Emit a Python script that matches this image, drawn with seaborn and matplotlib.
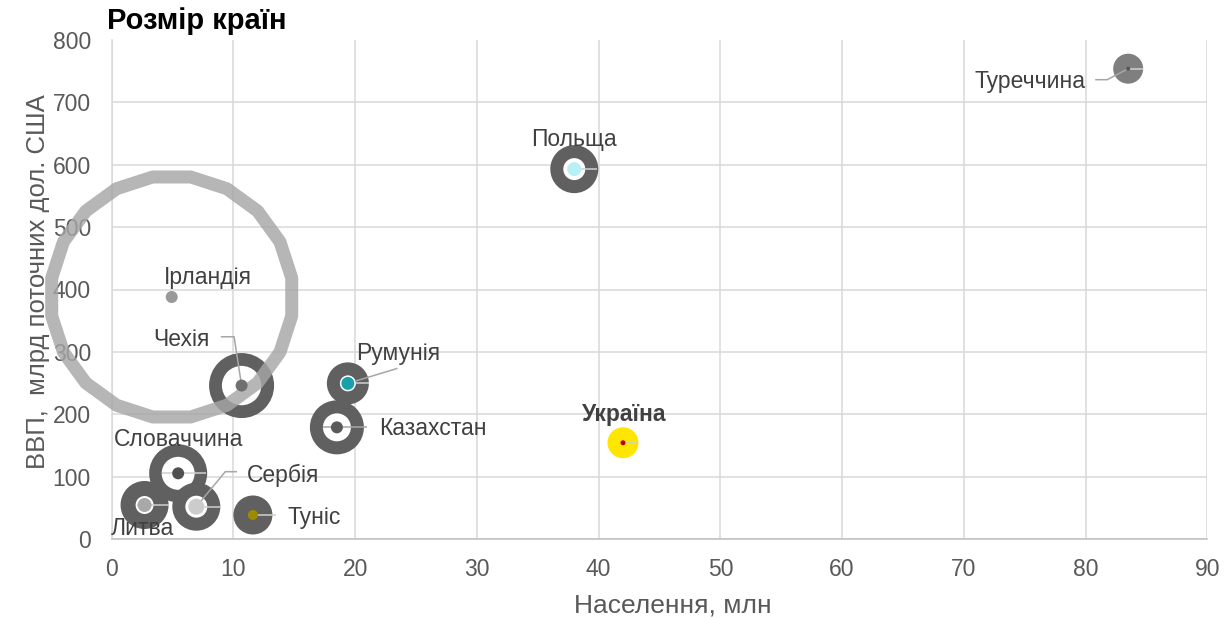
import numpy as np
import pandas as pd
import seaborn as sns
import matplotlib
matplotlib.use("Agg")
import matplotlib.pyplot as plt
from matplotlib.transforms import IdentityTransform

# Country data: population (mln) and GDP (bn current USD)
countries = ["Туреччина", "Польща", "Чехія", "Румунія", "Казахстан", "Україна",
             "Словаччина", "Литва", "Сербія", "Туніс", "Ірландія"]
population = [83.5, 38.0, 10.67, 19.4, 18.5, 42.0, 5.46, 2.7, 6.95, 11.6, 4.93]
gdp = [754, 593, 246, 249.5, 179, 154.3, 105.3, 54.5, 51.8, 38.5, 388]

x_ticks = list(range(0, 91, 10))
y_ticks = list(range(0, 801, 100))

title = "Розмір країн"
x_title = "Населення, млн"
y_title = "ВВП,  млрд поточних дол. США"

df = pd.DataFrame({"country": countries, "population": population, "gdp": gdp})

# Marker styling, in pixels (outer ring radius, inner hole radius, colours)
PX = 72 / 100  # points per pixel at 100 dpi
DARK = "#606060"
ring_outer = {"Туреччина": 15, "Польща": 24, "Чехія": 32.5, "Румунія": 21, "Казахстан": 27,
              "Україна": 15.5, "Словаччина": 29, "Литва": 24, "Сербія": 24, "Туніс": 19.5,
              "Ірландія": 128}
ring_inner = {"Туреччина": 0, "Польща": 11, "Чехія": 19.7, "Румунія": 8, "Казахстан": 14,
              "Україна": 0, "Словаччина": 16.5, "Литва": 9, "Сербія": 11, "Туніс": 0,
              "Ірландія": 115}
ring_color = {c: DARK for c in countries}
ring_color.update({"Туреччина": "#7f7f7f", "Україна": "#ffe600", "Ірландія": "#a6a6a6"})
dot_radius = {"Туреччина": 2, "Польща": 7, "Чехія": 6, "Румунія": 7, "Казахстан": 6,
              "Україна": 2.5, "Словаччина": 6, "Литва": 7, "Сербія": 8, "Туніс": 5,
              "Ірландія": 6}
dot_color = {"Туреччина": "#555555", "Польща": "#b8f0f8", "Чехія": "#707070",
             "Румунія": "#1aa0ad", "Казахстан": "#5a5a5a", "Україна": "#c00000",
             "Словаччина": "#505050", "Литва": "#a8a8a8", "Сербія": "#cccccc",
             "Туніс": "#9e8b00", "Ірландія": "#999999"}

# Label placement: offset from the point in pixels (right, down) and alignment
label_pos = {"Туреччина": (-43, 19, "right"), "Польща": (0, -23, "center"),
             "Ірландія": (36, -13, "center"), "Чехія": (-60, -40, "center"),
             "Румунія": (50, -23, "center"), "Казахстан": (42, 8, "left"),
             "Україна": (1, -22, "center"), "Словаччина": (0, -27, "center"),
             "Сербія": (51, -25, "left"), "Литва": (-34, 30, "left"),
             "Туніс": (35, 9, "left")}
leaders = {"Туреччина": [(0, 0), (-21, 11), (-33, 11)],
           "Чехія": [(0, 0), (-7.5, -48.8), (-20.8, -48.8)],
           "Румунія": [(0, 0), (49.6, -15)],
           "Сербія": [(0, 0), (29, -35), (40.7, -35)],
           "Казахстан": [(-14, 0), (30, 0)]}
notches = {"Туреччина": [(0, 0), (15, 0)], "Польща": [(0, 0), (23, 0)],
           "Румунія": [(0, 0), (21, 0)], "Україна": [(0, 0), (15, 0)],
           "Словаччина": [(-16, 0), (28, 0)], "Сербія": [(0, 0), (24, 0)],
           "Литва": [(-8, 0), (24, 0)], "Туніс": [(0, 0), (23, 0)]}

sns.set_style("white")
plt.rcParams["font.family"] = ["Liberation Sans", "DejaVu Sans"]

fig = plt.figure(figsize=(12.31, 6.19), dpi=100)
ax = fig.add_axes([111.7 / 1231, 1 - 539 / 619, 1095.6 / 1231, 499 / 619])
ax.set_xlim(0, 90)
ax.set_ylim(0, 800)

# Ring markers: white face with a thick edge, or a solid disc
rings = df[df["country"] != "Ірландія"]
face_pal, size_map, edges, widths = {}, {}, [], []
for c in rings["country"]:
    ro, ri = ring_outer[c], ring_inner[c]
    if ri > 0:
        face_pal[c] = "white"
        size_map[c] = (2 * (ro + ri) / 2 * PX) ** 2
        edges.append(ring_color[c])
        widths.append((ro - ri) * PX)
    else:
        face_pal[c] = ring_color[c]
        size_map[c] = (2 * ro * PX) ** 2
        edges.append(ring_color[c])
        widths.append(0)
sns.scatterplot(data=rings, x="population", y="gdp", hue="country", palette=face_pal,
                size="country", sizes=size_map, edgecolor=edges, linewidth=widths,
                legend=False, ax=ax, zorder=3, clip_on=False)

# Ireland: large light polygonal ring
irl = df[df["country"] == "Ірландія"]
ro, ri = ring_outer["Ірландія"], ring_inner["Ірландія"]
sns.scatterplot(data=irl, x="population", y="gdp", marker=(20, 0, 9),
                s=(2 * (ro + ri) / 2 * PX) ** 2, facecolor="none",
                edgecolor=ring_color["Ірландія"], linewidth=(ro - ri) * PX,
                alpha=0.82, legend=False, ax=ax, zorder=4, clip_on=False)

# Leader lines and notches, drawn in pixel offsets from each point
ax.figure.canvas.draw()
pts = dict(zip(df["country"], ax.transData.transform(df[["population", "gdp"]].to_numpy())))
for group, col in ((notches, "#cfcfcf"), (leaders, "#a6a6a6")):
    for c, verts in group.items():
        v = np.array(verts, dtype=float)
        ax.plot(pts[c][0] + v[:, 0], pts[c][1] - v[:, 1], color=col, lw=1.1,
                transform=IdentityTransform(), zorder=4.5, solid_capstyle="butt")

# Centre dots
dot_sizes = {c: (2 * dot_radius[c] * PX) ** 2 for c in countries}
dot_lw = [1.0 * PX if c == "Румунія" else 0 for c in df["country"]]
sns.scatterplot(data=df, x="population", y="gdp", hue="country", palette=dot_color,
                size="country", sizes=dot_sizes, edgecolor="white", linewidth=dot_lw,
                legend=False, ax=ax, zorder=5, clip_on=False)

# Point labels
for c, x, y in zip(df["country"], df["population"], df["gdp"]):
    dx, dy, ha = label_pos[c]
    bold = c == "Україна"
    ax.annotate(c, xy=(x, y), xytext=(dx, -dy), textcoords="offset pixels",
                ha=ha, va="baseline", fontsize=16.5, color="#404040",
                fontweight="bold" if bold else "normal", zorder=6)

# Axes styling
ax.set_xticks(x_ticks)
ax.set_yticks(y_ticks)
ax.grid(True, color="#d9d9d9", lw=1.1)
ax.set_axisbelow(True)
for s in ("top", "right"):
    ax.spines[s].set_visible(False)
ax.spines["left"].set_color("#d9d9d9")
ax.spines["left"].set_linewidth(1.1)
ax.spines["bottom"].set_color("#bfbfbf")
ax.spines["bottom"].set_linewidth(1.1)
ax.tick_params(axis="both", length=0, labelsize=16.5, labelcolor="#595959")
ax.tick_params(axis="x", pad=14)
ax.tick_params(axis="y", pad=15)
ax.yaxis.get_gridlines()[-1].set_visible(False)

ax.set_xlabel(x_title, fontsize=19, color="#595959")
ax.set_ylabel(y_title, fontsize=18.5, color="#595959")
ax.xaxis.set_label_coords(0.512, -0.148)
ax.xaxis.label.set_verticalalignment("baseline")
ax.yaxis.set_label_coords(-0.0609, 0.5156)
ax.yaxis.label.set(rotation_mode="anchor", va="baseline", ha="center")

fig.text(107 / 1231, 1 - 29 / 619, title, ha="left", va="baseline",
         fontsize=21, fontweight="bold", color="black")

fig.savefig("out.png", dpi=100, facecolor="white")
